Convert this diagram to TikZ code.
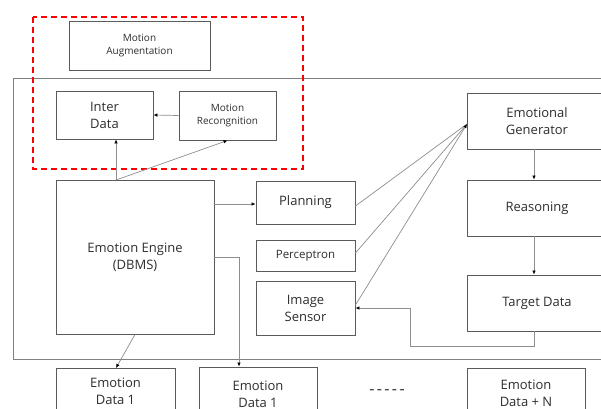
\documentclass[tikz,border=0pt]{standalone}
\usepackage{fontspec}
\setmainfont{Open Sans}
\usetikzlibrary{arrows.meta,calc}
\definecolor{boxline}{HTML}{5A5A5A}
\definecolor{conn}{HTML}{8E8E8E}
\definecolor{txt}{HTML}{2E2E2E}
\tikzset{
  box/.style={draw=boxline,line width=0.9pt,fill=white,inner sep=0pt,align=center,text=txt},
  big/.style={font=\fontsize{13}{17}\selectfont},
  mid/.style={font=\fontsize{11.5}{14}\selectfont},
  small/.style={font=\fontsize{10}{13}\selectfont},
  link/.style={draw=conn,line width=0.7pt},
  arr/.style={link,arrows={-{Latex[length=4pt,width=3.6pt,color=black]}}},
}
\begin{document}
\begin{tikzpicture}[x=1pt,y=-1pt]
\useasboundingbox (0,0) rectangle (601,408);
\clip (0,0) rectangle (601,408);
\fill[white] (0,0) rectangle (601,408);
% outer frame
\draw[draw=conn!90!black,line width=0.9pt] (13,78) rectangle (640,359);
% nodes
\node[box,small,minimum width=141pt,minimum height=49pt] (aug) at (139.5,45.5) {Motion\\Augmentation};
\node[box,big,minimum width=97pt,minimum height=48pt] (inter) at (104.5,115) {Inter\\Data};
\node[box,small,minimum width=97pt,minimum height=49pt] (mrec) at (227.5,115.5) {Motion\\Recongnition};
\node[box,big,minimum width=158pt,minimum height=154pt] (engine) at (135,257) {Emotion Engine\\(DBMS)};
\node[box,big,minimum width=99pt,minimum height=43pt] (plan) at (305.5,202.5) {Planning};
\node[box,mid,minimum width=99pt,minimum height=31pt] (perc) at (305.5,255.5) {Perceptron};
\node[box,big,minimum width=99pt,minimum height=54pt] (img) at (305.5,308) {Image\\Sensor};
\node[box,big,minimum width=140pt,minimum height=56pt] (egen) at (537,121) {Emotional\\Generator};
\node[box,big,minimum width=140pt,minimum height=56pt] (reas) at (537,208) {Reasoning};
\node[box,big,minimum width=140pt,minimum height=56pt] (targ) at (537,303) {Target Data};
\node[box,big,minimum width=119pt,minimum height=46pt] (ed1) at (115.5,391) {Emotion\\Data 1};
\node[box,big,minimum width=118pt,minimum height=54pt] (ed2) at (258,394) {Emotion\\Data 1};
\node[box,big,minimum width=118pt,minimum height=50pt] (edn) at (526,393) {Emotion\\Data + N};
\node[text=txt,font=\fontsize{16}{18}\selectfont] (dots) at (387,392) {-\kern2.4pt-\kern2.4pt-\kern2.4pt-\kern2.4pt-};
% red dashed group
\draw[red,line width=1.8pt,dash pattern=on 6pt off 4pt] (33,17) rectangle (303,169);
% coordinates
\coordinate (ee1) at (116,180);
\coordinate (egin) at (467,124);
\coordinate (k2) at (239,257);
\coordinate (ed1in) at (116,368);
\coordinate (t1) at (534,346);
\coordinate (t2) at (410,346);
\coordinate (t3) at (410,308);
% connectors
\draw[arr] (mrec.west) -- (inter.east);
\draw[arr] (ee1) -- (ee1 |- inter.south);
\draw[arr] (ee1) -- (mrec.south);
\draw[arr] (engine.east |- 0,204) -- (plan.west |- 0,204);
\draw[arr] (engine.east) -- (k2) -- (k2 |- ed2.north);
\draw[arr] (engine.south) -- (ed1in);
\draw[link] (plan.east |- 0,206) -- (egin);
\draw[link] (perc.east |- 0,253) -- (egin);
\draw[arr] (img.east |- 0,305) -- (egin);
\draw[arr] (egen.south -| 534,0) -- (reas.north -| 534,0);
\draw[arr] (reas.south -| 534,0) -- (targ.north -| 534,0);
\draw[arr] (targ.south -| t1) -- (t1) -- (t2) -- (t3) -- (img.east |- t3);
\end{tikzpicture}
\end{document}
